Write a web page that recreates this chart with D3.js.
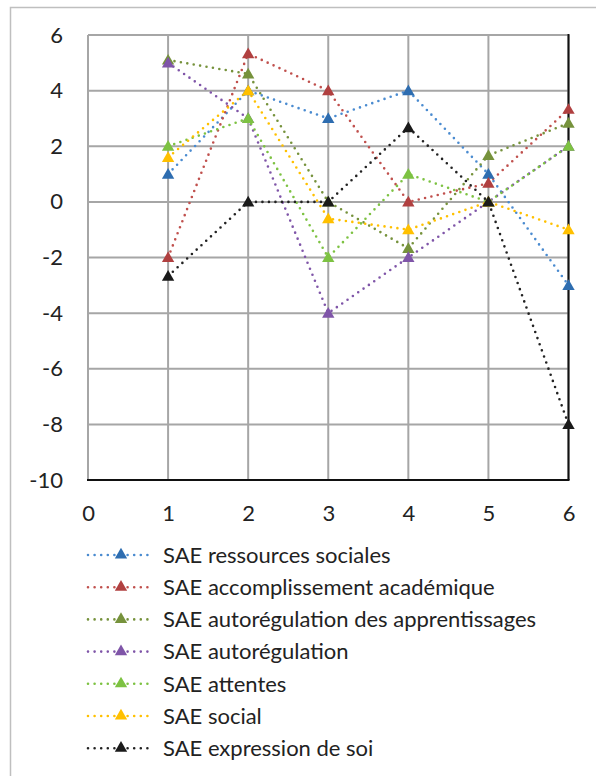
<!DOCTYPE html>
<html>
<head>
<meta charset="utf-8">
<script src="https://cdn.jsdelivr.net/npm/d3@7"></script>
<style>
  body { margin: 0; background: #fff; }
  svg text { font-family: Lato, "Open Sans", sans-serif; fill: #222; }
</style>
</head>
<body>
<div class="chart"></div>
<script>
// x categories and series values
var xValues = [1, 2, 3, 4, 5, 6];
var seriesNames = [
  "SAE ressources sociales",
  "SAE accomplissement académique",
  "SAE autorégulation des apprentissages",
  "SAE autorégulation",
  "SAE attentes",
  "SAE social",
  "SAE expression de soi"
];
var ressources     = [1, 4, 3, 4, 1, -3];
var accomplissement = [-2, 5.33, 4, 0, 0.67, 3.33];
var apprentissages = [5.1, 4.6, 0, -1.67, 1.67, 2.83];
var autoregulation = [5, 3, -4, -2, 0, 2];
var attentes       = [2, 3, -2, 1, 0, 2];
var social         = [1.6, 4, -0.6, -1, 0, -1];
var expression     = [-2.67, 0, 0, 2.67, 0, -8];
var xTicks = [0, 1, 2, 3, 4, 5, 6];
var yTicks = [6, 4, 2, 0, -2, -4, -6, -8, -10];

var lineColors   = ["#4a8bd0", "#c0504d", "#76923c", "#7f55a8", "#7dc242", "#ffc000", "#222222"];
var markerColors = ["#2e6db0", "#b04040", "#76923c", "#7f55a8", "#7dc242", "#ffc000", "#1a1a1a"];

var allValues = [ressources, accomplissement, apprentissages, autoregulation, attentes, social, expression];
var series = seriesNames.map(function(n, i) {
  return {name: n, values: allValues[i], line: lineColors[i], marker: markerColors[i]};
});

var W = 596, H = 776;
var plot = {left: 88, top: 35, right: 568.5, bottom: 480};

var svg = d3.select('div.chart').append('svg').attr('width', W).attr('height', H);

// outer frame (only left and top edges are visible)
svg.append('rect').attr('x', 10.5).attr('y', 7.5).attr('width', W + 20).attr('height', H + 20)
  .attr('fill', 'none').attr('stroke', '#bfbfbf').attr('stroke-width', 1.5);

var x = d3.scaleLinear().domain([0, 6]).range([plot.left, plot.right]);
var y = d3.scaleLinear().domain([-10, 6]).range([plot.bottom, plot.top]);

// gridlines
svg.append('g').selectAll('line.h').data(yTicks).enter().append('line')
  .attr('x1', plot.left).attr('x2', plot.right)
  .attr('y1', function(d) { return y(d); }).attr('y2', function(d) { return y(d); })
  .attr('stroke', '#a6a6a6').attr('stroke-width', 2);
svg.append('g').selectAll('line.v').data(xTicks).enter().append('line')
  .attr('y1', plot.top).attr('y2', plot.bottom)
  .attr('x1', function(d) { return x(d); }).attr('x2', function(d) { return x(d); })
  .attr('stroke', '#a6a6a6').attr('stroke-width', 2);

// axis lines: bottom and right are dark
svg.append('line').attr('x1', plot.left - 1).attr('x2', plot.right + 1)
  .attr('y1', y(-10)).attr('y2', y(-10)).attr('stroke', '#111').attr('stroke-width', 2);
svg.append('line').attr('x1', x(6)).attr('x2', x(6))
  .attr('y1', plot.top - 1).attr('y2', plot.bottom).attr('stroke', '#111').attr('stroke-width', 2);

// tick labels (plain hyphen minus like the original)
var fmt = function(d) { return String(d); };
var yAxis = d3.axisLeft(y).tickValues(yTicks).tickFormat(fmt).tickSize(0).tickPadding(25);
svg.append('g').attr('transform', 'translate(' + plot.left + ',0)').call(yAxis)
  .call(function(g) { g.select('.domain').remove(); })
  .selectAll('text').attr('font-size', 22).attr('font-family', 'Lato, sans-serif').attr('fill', '#222');

var xAxis = d3.axisBottom(x).tickValues(xTicks).tickFormat(fmt).tickSize(0).tickPadding(25);
svg.append('g').attr('transform', 'translate(0,' + plot.bottom + ')').call(xAxis)
  .call(function(g) { g.select('.domain').remove(); })
  .selectAll('text').attr('font-size', 22).attr('font-family', 'Lato, sans-serif').attr('fill', '#222');

var tri = d3.symbol().type(d3.symbolTriangle).size(66);

var line = d3.line()
  .x(function(d, i) { return x(xValues[i]); })
  .y(function(d) { return y(d); });

series.forEach(function(s) {
  svg.append('path').datum(s.values).attr('d', line)
    .attr('fill', 'none').attr('stroke', s.line).attr('stroke-width', 2.6)
    .attr('stroke-linecap', 'round').attr('stroke-dasharray', '0 6.5');
});
series.forEach(function(s) {
  svg.append('g').selectAll('path').data(s.values).enter().append('path')
    .attr('d', tri)
    .attr('transform', function(d, i) { return 'translate(' + x(xValues[i]) + ',' + (y(d) + 1) + ')'; })
    .attr('fill', s.marker);
});

// legend
var legend = svg.append('g').selectAll('g').data(series).enter().append('g')
  .attr('transform', function(d, i) { return 'translate(0,' + (555 + i * 32.2) + ')'; });
legend.append('line').attr('x1', 88).attr('x2', 153).attr('y1', 0).attr('y2', 0)
  .attr('stroke', function(d) { return d.line; }).attr('stroke-width', 2.6)
  .attr('stroke-linecap', 'round').attr('stroke-dasharray', '0 6.6');
legend.append('path').attr('d', tri).attr('transform', 'translate(121,0)')
  .attr('fill', function(d) { return d.marker; });
legend.append('text').attr('x', 163).attr('y', 0).attr('dy', '0.35em')
  .attr('font-size', 22).text(function(d) { return d.name; });
</script>
</body>
</html>
